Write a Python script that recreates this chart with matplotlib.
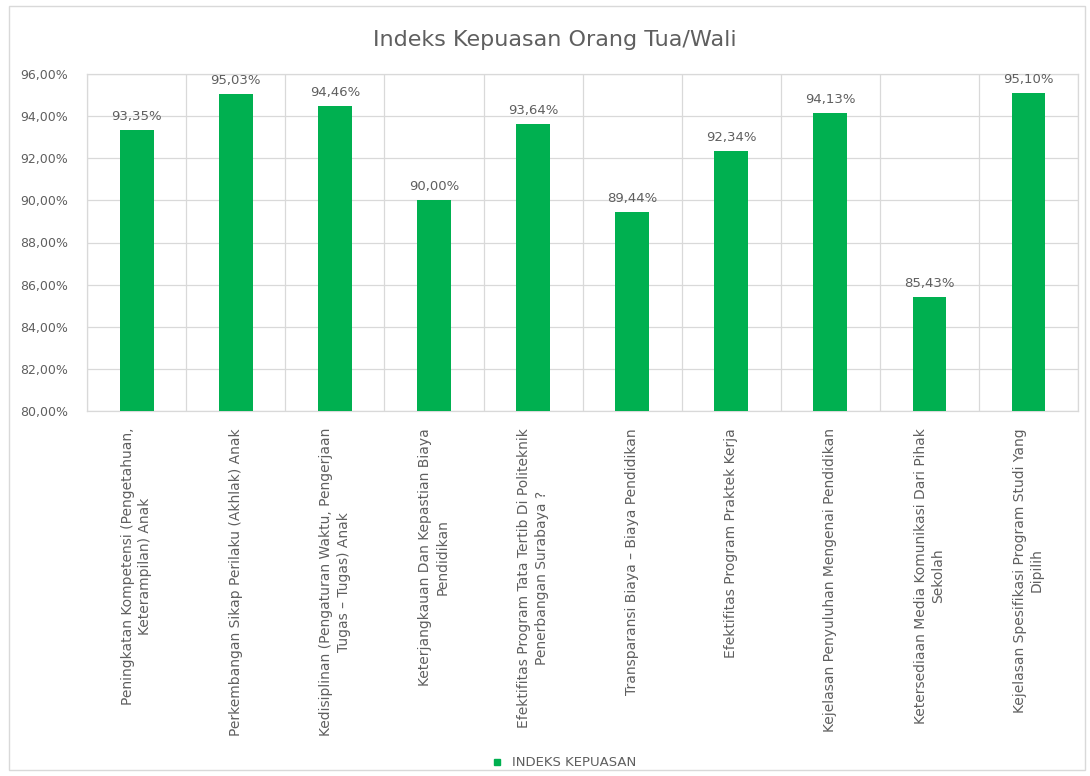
import matplotlib
matplotlib.use("Agg")
import matplotlib.pyplot as plt
from matplotlib.lines import Line2D
from matplotlib.patches import Rectangle
import numpy as np

categories = [
    "Peningkatan Kompetensi (Pengetahuan,\nKeterampilan) Anak",
    "Perkembangan Sikap Perilaku (Akhlak) Anak",
    "Kedisiplinan (Pengaturan Waktu, Pengerjaan\nTugas \u2013 Tugas) Anak",
    "Keterjangkauan Dan Kepastian Biaya\nPendidikan",
    "Efektifitas Program Tata Tertib Di Politeknik\nPenerbangan Surabaya ?",
    "Transparansi Biaya \u2013 Biaya Pendidikan",
    "Efektifitas Program Praktek Kerja",
    "Kejelasan Penyuluhan Mengenai Pendidikan",
    "Ketersediaan Media Komunikasi Dari Pihak\nSekolah",
    "Kejelasan Spesifikasi Program Studi Yang\nDipilih",
]
indeks_kepuasan = [93.35, 95.03, 94.46, 90.00, 93.64, 89.44, 92.34, 94.13, 85.43, 95.10]
yticks = [80, 82, 84, 86, 88, 90, 92, 94, 96]

text_color = "#5f5f5f"
grid_color = "#d9d9d9"
bar_color = "#00b050"

plt.rcParams["font.family"] = ["DejaVu Sans"]


def pct(v):
    return f"{v:.2f}%".replace(".", ",")


fig = plt.figure(figsize=(10.9, 7.76), dpi=100)
ax = fig.add_axes([0.080, 0.470, 0.909, 0.435])

x = np.arange(len(categories))
ax.bar(x, indeks_kepuasan, width=0.34, color=bar_color, zorder=3)

# label di atas tiap batang
for xi, v in zip(x, indeks_kepuasan):
    ax.annotate(pct(v), (xi, v), xytext=(0, 5), textcoords="offset points",
                ha="center", va="bottom", fontsize=9.5, color=text_color)

ax.set_ylim(80, 96)
ax.set_yticks(yticks)
ax.set_yticklabels([pct(t) for t in yticks], fontsize=9, color=text_color)
ax.set_xlim(-0.5, len(categories) - 0.5)
ax.set_xticks(x)
ax.set_xticklabels(categories, rotation=90, ha="center", va="top",
                   multialignment="center", fontsize=10, color=text_color,
                   linespacing=1.3)
ax.set_xticks(np.arange(-0.5, len(categories)), minor=True)
ax.tick_params(axis="both", which="both", length=0)
ax.tick_params(axis="x", pad=12)
ax.tick_params(axis="y", pad=14)

ax.grid(axis="y", color=grid_color, linewidth=0.9, zorder=0)
ax.grid(axis="x", which="minor", color=grid_color, linewidth=0.9, zorder=0)
for s in ax.spines.values():
    s.set_color(grid_color)
    s.set_linewidth(0.9)

fig.text(0.509, 0.948, "Indeks Kepuasan Orang Tua/Wali", ha="center", va="center",
         fontsize=16, color=text_color)

handle = Line2D([], [], marker="s", linestyle="none", markersize=5,
                markerfacecolor=bar_color, markeredgecolor=bar_color)
fig.legend([handle], ["INDEKS KEPUASAN"], loc="center", bbox_to_anchor=(0.514, 0.017),
           frameon=False, fontsize=9.5, labelcolor=text_color, handletextpad=0.1)

# bingkai luar chart
fig.patches.append(Rectangle((0.008, 0.008), 0.987, 0.984, transform=fig.transFigure,
                             fill=False, edgecolor=grid_color, linewidth=1))

fig.savefig("out.png", dpi=100)
